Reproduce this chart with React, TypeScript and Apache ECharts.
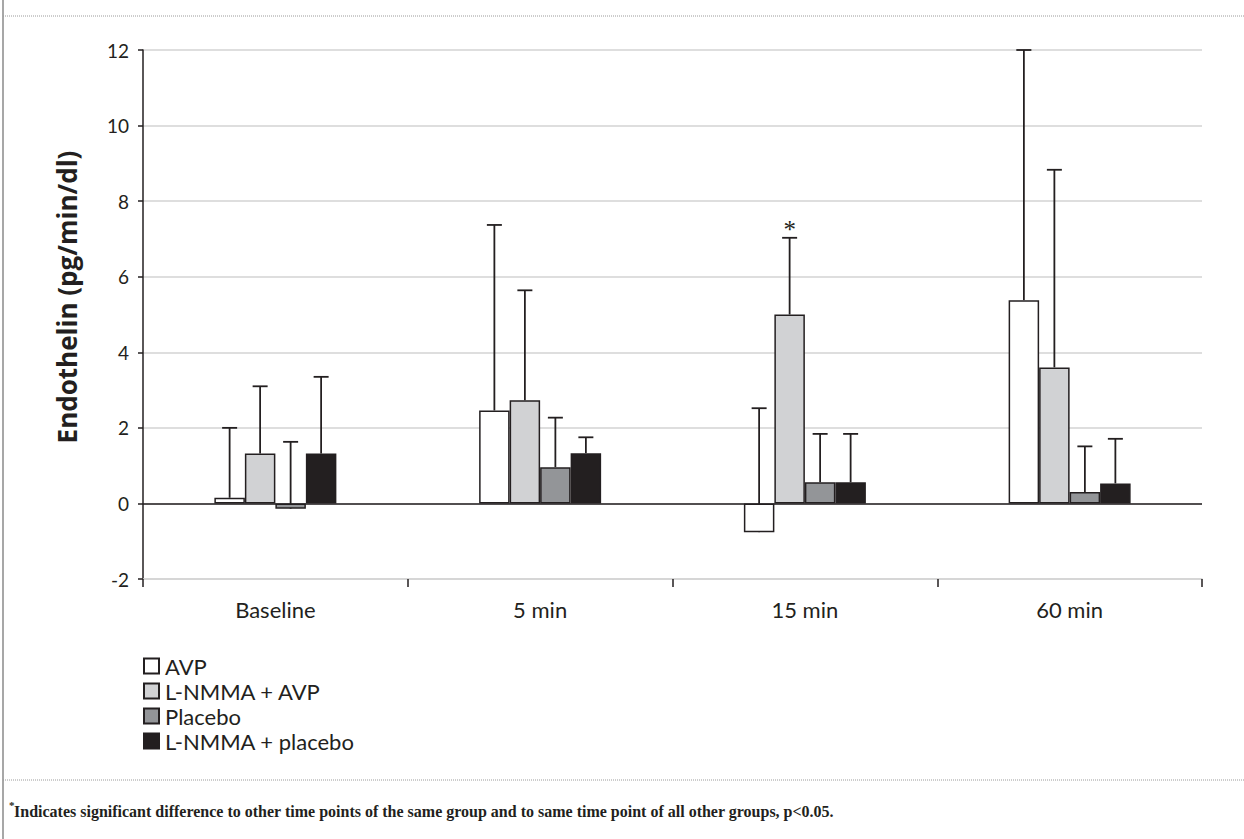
import React, { useEffect, useRef } from "react";
import * as echarts from "echarts";

const categories = ["Baseline", "5 min", "15 min", "60 min"];
const seriesNames = ["AVP", "L-NMMA + AVP", "Placebo", "L-NMMA + placebo"];

const avpMean = [0.15, 2.46, -0.76, 5.38];
const avpSd = [1.85, 4.91, 3.28, 6.62];
const lnmmaAvpMean = [1.32, 2.73, 5.0, 3.6];
const lnmmaAvpSd = [1.78, 2.91, 2.03, 5.23];
const placeboMean = [-0.14, 0.96, 0.56, 0.3];
const placeboSd = [1.77, 1.31, 1.28, 1.21];
const lnmmaPlaceboMean = [1.32, 1.33, 0.56, 0.53];
const lnmmaPlaceboSd = [2.03, 0.42, 1.28, 1.18];

const significance = [
  ["", "", "", ""],
  ["", "", "*", ""],
  ["", "", "", ""],
  ["", "", "", ""],
];

const yTicks = { min: -2, max: 12, interval: 2 };

const colors = ["#ffffff", "#d1d2d4", "#939598", "#231f20"];
const INK = "#231f20";
const BAR_W = 30.5;
const SANS = "Lato, 'Open Sans', sans-serif";

export default function App() {
  const ref = useRef<HTMLDivElement>(null);

  useEffect(() => {
    if (!ref.current) return;
    const chart = echarts.init(ref.current, null, { renderer: "svg" });
    const means = [avpMean, lnmmaAvpMean, placeboMean, lnmmaPlaceboMean];
    const sds = [avpSd, lnmmaAvpSd, placeboSd, lnmmaPlaceboSd];

    const errData: number[][] = [];
    const errMeta: { s: number; c: number }[] = [];
    means.forEach((arr, s) => {
      arr.forEach((m, c) => {
        errData.push([c, s, m, m + sds[s][c]]);
        errMeta.push({ s, c });
      });
    });

    const barSeries = seriesNames.map((name, s) => ({
      name,
      type: "bar",
      data: means[s],
      barWidth: BAR_W,
      barGap: "0%",
      z: 3,
      itemStyle: { color: colors[s], borderColor: INK, borderWidth: 1.5 },
      ...(s === 0
        ? {
            markLine: {
              silent: true,
              symbol: "none",
              label: { show: false },
              lineStyle: { color: INK, width: 1.5, type: "solid" },
              data: [{ yAxis: 0 }],
              z: 4,
            },
          }
        : {}),
    }));

    const option: any = {
      animation: false,
      backgroundColor: "#ffffff",
      grid: { left: 143, right: 42, top: 50, bottom: 260 },
      legend: {
        data: seriesNames,
        orient: "vertical",
        left: 143,
        top: 655,
        padding: 0,
        icon: "rect",
        itemWidth: 15,
        itemHeight: 15,
        itemGap: 3,
        textStyle: {
          fontFamily: SANS,
          fontSize: 22,
          lineHeight: 22,
          color: INK,
          padding: [0, 0, 0, 1],
        },
      },
      xAxis: {
        type: "category",
        data: categories,
        axisLine: { show: true, onZero: false, lineStyle: { color: "#d3d3d3", width: 1.5 } },
        axisTick: { show: true, length: 8, lineStyle: { color: INK, width: 1.5 } },
        axisLabel: { fontFamily: SANS, fontSize: 22, color: INK, margin: 19 },
      },
      yAxis: {
        type: "value",
        min: yTicks.min,
        max: yTicks.max,
        interval: yTicks.interval,
        axisLine: { show: true, lineStyle: { color: INK, width: 1.5 } },
        axisTick: { show: true, length: 5, lineStyle: { color: INK, width: 1.5 } },
        axisLabel: { fontFamily: SANS, fontSize: 19, color: INK, margin: 14 },
        splitLine: { show: true, lineStyle: { color: "#d3d3d3", width: 1.5 } },
      },
      graphic: [
        {
          type: "line",
          shape: { x1: 3, y1: 0, x2: 3, y2: 839 },
          style: { stroke: "#8a8a8a", lineWidth: 1.5 },
        },
        {
          type: "line",
          shape: { x1: 3, y1: 16, x2: 1244, y2: 16 },
          style: { stroke: "#9a9a9a", lineWidth: 1, lineDash: [1, 1] },
        },
        {
          type: "line",
          shape: { x1: 3, y1: 780, x2: 1244, y2: 780 },
          style: { stroke: "#9a9a9a", lineWidth: 1, lineDash: [1, 1] },
        },
        {
          type: "text",
          x: 67,
          y: 297,
          rotation: Math.PI / 2,
          style: {
            text: "Endothelin (pg/min/dl)",
            fontFamily: "'Open Sans', Lato, sans-serif",
            fontWeight: "bold",
            fontSize: 26,
            fill: INK,
            align: "center",
            verticalAlign: "middle",
            textAlign: "center",
            textVerticalAlign: "middle",
          },
        },
        {
          type: "text",
          x: 9,
          y: 805,
          style: {
            text: "*",
            fontFamily: "'Liberation Serif', serif",
            fontWeight: "bold",
            fontSize: 11,
            fill: INK,
            textVerticalAlign: "middle",
            verticalAlign: "middle",
          },
        },
        {
          type: "text",
          x: 14,
          y: 811,
          style: {
            text:
              "Indicates significant difference to other time points of the same group and to same time point of all other groups, p<0.05.",
            fontFamily: "'Liberation Serif', serif",
            fontWeight: "bold",
            fontSize: 16,
            fill: INK,
            textVerticalAlign: "middle",
            verticalAlign: "middle",
          },
        },
      ],
      series: [
        ...barSeries,
        {
          type: "custom",
          name: "errors",
          z: 1,
          silent: true,
          data: errData,
          encode: { x: 0, y: 2 },
          renderItem: (params: any, api: any) => {
            const c = api.value(0);
            const s = api.value(1);
            const m = api.value(2);
            const top = api.value(3);
            const p0 = api.coord([c, m]);
            const p1 = api.coord([c, top]);
            const x = p0[0] + (s - 1.5) * BAR_W;
            const style = { stroke: INK, lineWidth: 1.8 };
            const children: any[] = [
              { type: "line", shape: { x1: x, y1: p0[1], x2: x, y2: p1[1] }, style },
              { type: "line", shape: { x1: x - 7.5, y1: p1[1], x2: x + 7.5, y2: p1[1] }, style },
            ];
            const meta = errMeta[params.dataIndex];
            const mark = significance[meta.s][meta.c];
            if (mark) {
              children.push({
                type: "text",
                x: x,
                y: p1[1] + 4,
                style: {
                  text: mark,
                  fontFamily: "'Liberation Serif', serif",
                  fontSize: 25,
                  fill: INK,
                  align: "center",
                  verticalAlign: "bottom",
                  textAlign: "center",
                  textVerticalAlign: "bottom",
                },
              });
            }
            return { type: "group", children };
          },
        },
      ],
    };

    chart.setOption(option);
    return () => chart.dispose();
  }, []);

  return (
    <div
      ref={ref}
      style={{ position: "fixed", left: 0, top: 0, width: 1244, height: 839, background: "#fff" }}
    />
  );
}
